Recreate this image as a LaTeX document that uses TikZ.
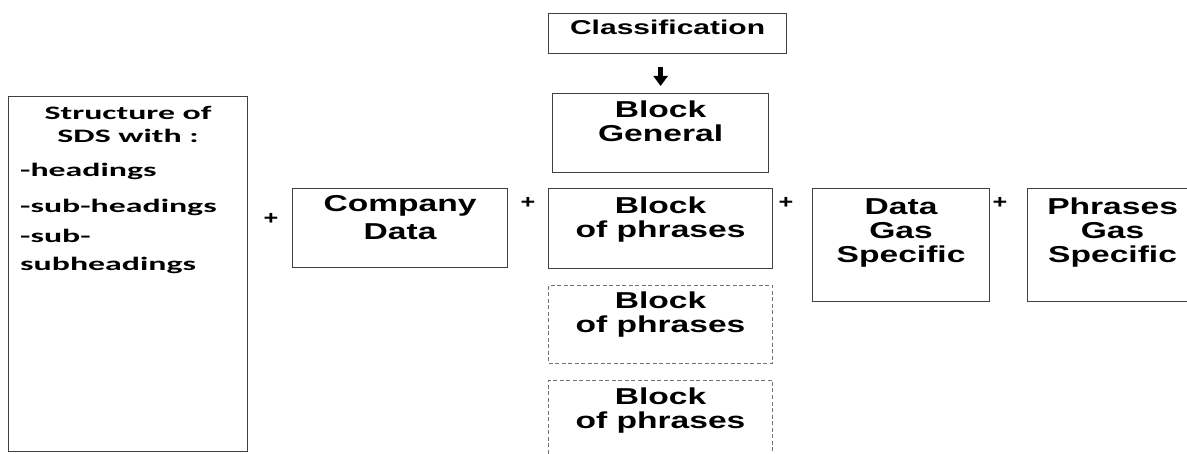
\documentclass[tikz,border=0pt]{standalone}
\usepackage{fontspec}
\usepackage{graphicx}
\newfontfamily\arialf{Liberation Sans}
\newfontfamily\calibf{Carlito}
\usetikzlibrary{arrows.meta,positioning}
% stretched multi-line text
\newcommand{\wide}[2][1.46]{\scalebox{#1}[1]{\begin{tabular}[t]{@{}c@{}}#2\end{tabular}}}
\newcommand{\wideleft}[2][1.78]{\scalebox{#1}[1]{\begin{tabular}[t]{@{}l@{}}#2\end{tabular}}}
\tikzset{
    %Define standard arrow tip
    >={Triangle[width=14pt,length=10pt]},
    % Define arrow style
    pil/.style={
           ->,
           line width=4.5pt,
           shorten <=13pt,
           shorten >=7pt,}
}

\begin{document}
\begin{tikzpicture}[x=1pt,y=-1pt,
box/.style={draw=black!75, line width=1.2pt, inner sep=0pt, anchor=north west},
dbox/.style={draw=black!55, line width=1pt, dash pattern=on 4pt off 2.5pt, inner sep=0pt, anchor=north west},
txt/.style={font=\arialf\bfseries\fontsize{23}{24}\selectfont, inner sep=0pt, anchor=base},
sdstxt/.style={font=\calibf\bfseries\fontsize{19}{23}\selectfont, inner sep=0pt, anchor=base},
plus/.style={font=\arialf\bfseries\fontsize{21}{21}\selectfont, inner sep=0pt},
]
\useasboundingbox (0,0) rectangle (1187,454);
%Boxes
\node[box, minimum width=239pt, minimum height=355pt] (sds) at (8,96) {};
\node[box, minimum width=215pt, minimum height=79pt] (company) at (292,188) {};
\node[box, minimum width=238pt, minimum height=40pt] (classif) at (548,13) {};
\node[box, minimum width=216pt, minimum height=79pt] (general) at (552,93) {};
\node[box, minimum width=224pt, minimum height=80pt] (phrA) at (548,188) {};
\node[dbox, minimum width=224pt, minimum height=78pt] (phrB) at (548,285) {};
\node[dbox, minimum width=224pt, minimum height=100pt] (phrC) at (548,380) {};
\node[box, minimum width=177pt, minimum height=113pt] (datagas) at (812,188) {};
\node[box, minimum width=170pt, minimum height=113pt] (phrgas) at (1027,188) {};

%Texts
\node[sdstxt] (sdsT) at ([yshift=-24pt]sds.north) {\wide[1.78]{Structure of\\SDS with :}};
\node[sdstxt, anchor=base west, font=\calibf\bfseries\fontsize{19}{28}\selectfont] (sdsL)
  at ([xshift=12pt,yshift=-81pt]sds.north west)
  {\wideleft{-headings\\[8pt]-sub-headings\\[2pt]-sub-\\subheadings}};
\node[txt] (companyT) at ([yshift=-24pt]company.north) {\wide{Company\\[4pt]Data}};
\node[txt, font=\arialf\bfseries\fontsize{20}{22}\selectfont] (classifT)
  at ([yshift=-22pt]classif.north) {\wide[1.5]{Classification}};
\node[txt] (generalT) at ([yshift=-25pt]general.north) {\wide{Block\\General}};
\node[txt] (phrAT) at ([yshift=-26pt]phrA.north) {\wide{Block\\of phrases}};
\node[txt] (phrBT) at ([yshift=-24pt]phrB.north) {\wide{Block\\of phrases}};
\node[txt] (phrCT) at ([yshift=-25pt]phrC.north) {\wide{Block\\of phrases}};
\node[txt] (datagasT) at ([yshift=-27pt]datagas.north) {\wide{Data\\Gas\\Specific}};
\node[txt] (phrgasT) at ([yshift=-27pt]phrgas.north) {\wide{Phrases\\Gas\\Specific}};

%Plus signs
\node[plus] (p1) at (271,219) {\scalebox{1.2}[0.9]{+}};
\node[plus] (p2) at (528,203) {\scalebox{1.2}[0.9]{+}};
\node[plus] (p3) at (786,203) {\scalebox{1.2}[0.9]{+}};
\node[plus] (p4) at (1000,203) {\scalebox{1.2}[0.9]{+}};

\draw[pil] (general.north |- classif.south) -- (general.north);

\end{tikzpicture}
\end{document}
